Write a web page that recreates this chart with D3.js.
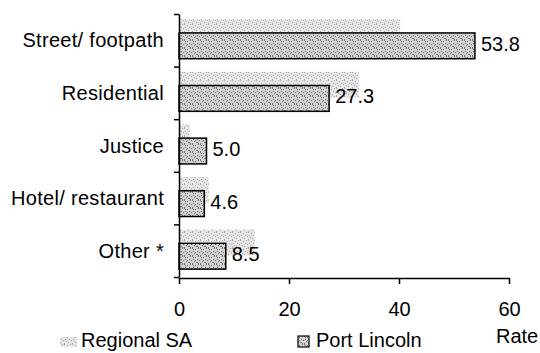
<!DOCTYPE html>
<html>
<head>
<meta charset="utf-8">
<script src="https://cdn.jsdelivr.net/npm/d3@7"></script>
<style>
  html, body { margin: 0; padding: 0; background: #fff; }
  svg text { font-family: "Liberation Sans", Arial, sans-serif; fill: #000; }
</style>
</head>
<body>
<svg id="chart" width="540" height="353"></svg>
<script>
// Offence location rates, Regional SA vs Port Lincoln
const categories = ["Street/ footpath", "Residential", "Justice", "Hotel/ restaurant", "Other *"];
const regionalSA = [40.2, 32.7, 2.0, 5.4, 13.8];
const portLincoln = [53.8, 27.3, 5.0, 4.6, 8.5];
const xTicks = [0, 20, 40, 60];
const seriesNames = ["Regional SA", "Port Lincoln"];
const axisTitle = "Rate";

const svg = d3.select("#chart");

// Stipple fills: a fixed speckle tile for each series
const defs = svg.append("defs");
const speckle = [[0,0],[3,1],[6,0],[1,3],[5,3],[2,5],[7,4],[4,6],[0,7],[6,7],[3,4],[1,1],[5,6]];
function stipple(id, bg, dot, dots) {
  const p = defs.append("pattern").attr("id", id)
    .attr("patternUnits", "userSpaceOnUse").attr("width", 8).attr("height", 8);
  p.append("rect").attr("width", 8).attr("height", 8).attr("fill", bg);
  p.selectAll("rect.d").data(dots).enter().append("rect").attr("class", "d")
    .attr("x", d => d[0]).attr("y", d => d[1]).attr("width", 1).attr("height", 1)
    .attr("fill", dot);
}
stipple("fillRegional", "#e6e6e6", "#a6a6a6", speckle.slice(0, 9));
stipple("fillPort", "#d2d2d2", "#6e6e6e", speckle);

const x = d3.scaleLinear().domain([0, 60]).range([179, 509]);
const y = d3.scaleBand().domain(categories).range([14, 277]).paddingInner(0).paddingOuter(0);
const bw = y.bandwidth();
const barH = bw * 0.49;
const offRegional = bw * 0.1;
const offPort = bw * 0.36;

// Regional SA bars (no outline), drawn first so Port Lincoln overlaps them
svg.append("g").selectAll("rect").data(categories).enter().append("rect")
  .attr("x", x(0))
  .attr("y", d => y(d) + offRegional)
  .attr("width", (d, i) => x(regionalSA[i]) - x(0))
  .attr("height", barH)
  .attr("fill", "url(#fillRegional)");

// Port Lincoln bars
svg.append("g").selectAll("rect").data(categories).enter().append("rect")
  .attr("x", x(0))
  .attr("y", d => y(d) + offPort)
  .attr("width", (d, i) => x(portLincoln[i]) - x(0))
  .attr("height", barH)
  .attr("fill", "url(#fillPort)")
  .attr("stroke", "#000").attr("stroke-width", 1.5);

// Value labels for Port Lincoln
svg.append("g").selectAll("text").data(categories).enter().append("text")
  .attr("x", (d, i) => x(portLincoln[i]) + 6)
  .attr("y", d => y(d) + offPort + barH / 2 - 2)
  .attr("dy", "0.35em")
  .attr("font-size", 20)
  .text((d, i) => portLincoln[i].toFixed(1));

// Category labels
svg.append("g").selectAll("text").data(categories).enter().append("text")
  .attr("x", 164)
  .attr("y", d => y(d) + bw / 2)
  .attr("dy", "0.35em")
  .attr("text-anchor", "end")
  .attr("font-size", 20)
  .attr("letter-spacing", 0.3)
  .text(d => d);

// Y axis: ticks at category boundaries
const yEdges = d3.scaleLinear().domain([0, categories.length]).range([14, 277]);
const yAxis = svg.append("g").attr("transform", `translate(${x(0)},0)`)
  .call(d3.axisLeft(yEdges).tickValues(d3.range(categories.length + 1))
    .tickSize(5).tickSizeOuter(0).tickFormat(""));
yAxis.selectAll("path, line").attr("stroke", "#000").attr("stroke-width", 1.5);

// X axis
const xAxis = svg.append("g").attr("transform", `translate(0,278)`)
  .call(d3.axisBottom(x).tickValues(xTicks).tickSize(6).tickSizeOuter(0).tickPadding(18));
xAxis.selectAll("path, line").attr("stroke", "#000").attr("stroke-width", 1.5);
xAxis.selectAll("text").attr("font-size", 20).attr("font-family", "Liberation Sans, Arial, sans-serif").attr("fill", "#000");

// Axis title
svg.append("text").attr("x", 496).attr("y", 343).attr("font-size", 20).text(axisTitle);

// Legend
const legend = svg.append("g");
legend.append("rect").attr("x", 60).attr("y", 337).attr("width", 17).attr("height", 10)
  .attr("fill", "url(#fillRegional)");
legend.append("text").attr("x", 81).attr("y", 347).attr("font-size", 20).text(seriesNames[0]);
legend.append("rect").attr("x", 298).attr("y", 336).attr("width", 11).attr("height", 11)
  .attr("fill", "url(#fillPort)").attr("stroke", "#000").attr("stroke-width", 1.2);
legend.append("text").attr("x", 316).attr("y", 347).attr("font-size", 20).text(seriesNames[1]);
</script>
</body>
</html>
